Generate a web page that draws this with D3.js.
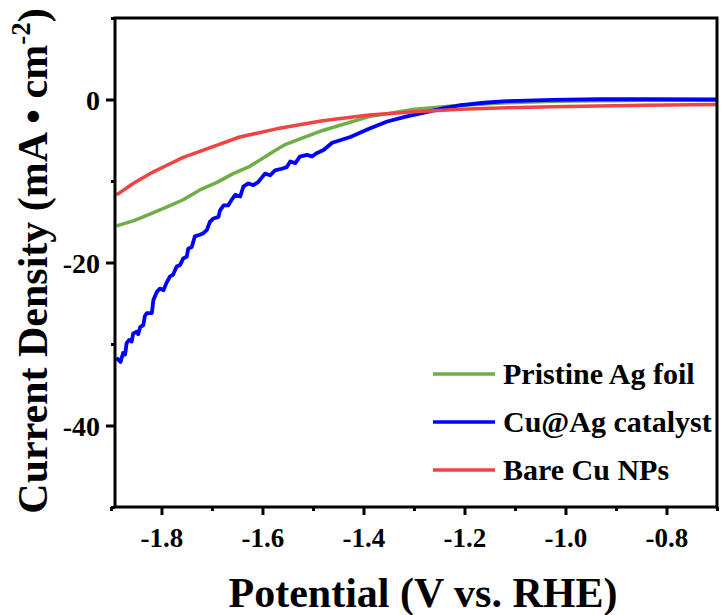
<!DOCTYPE html>
<html>
<head>
<meta charset="utf-8">
<script src="https://cdn.jsdelivr.net/npm/d3@7"></script>
<style>
  body { margin: 0; background: #fff; }
</style>
</head>
<body>
<script>
// data: [potential V, current density mA/cm2]
const pristineAg = [
  [-1.889, -15.5], [-1.856, -14.9], [-1.836, -14.4], [-1.790, -13.2], [-1.757, -12.3],
  [-1.724, -11.1], [-1.691, -10.2], [-1.658, -9.1], [-1.625, -8.2], [-1.579, -6.4],
  [-1.554, -5.5], [-1.481, -3.8], [-1.389, -2.1], [-1.298, -1.2], [-1.207, -0.7],
  [-1.116, -0.4], [-1.025, -0.2], [-0.842, -0.1], [-0.696, -0.1]
];

const cuAg = [
  [-1.889, -31.7], [-1.881, -32.2], [-1.876, -31.1], [-1.872, -31.3], [-1.869, -29.9],
  [-1.864, -29.5], [-1.859, -29.7], [-1.856, -28.7], [-1.849, -28.5], [-1.846, -28.8],
  [-1.842, -27.9], [-1.836, -27.7], [-1.833, -26.6], [-1.829, -26.2], [-1.819, -26.2],
  [-1.816, -24.6], [-1.809, -23.6], [-1.803, -23.2], [-1.796, -23.4], [-1.790, -22.5],
  [-1.783, -21.7], [-1.777, -21.5], [-1.770, -20.5], [-1.763, -20.3], [-1.757, -19.5],
  [-1.750, -19.3], [-1.747, -18.3], [-1.740, -18.1], [-1.734, -16.8], [-1.724, -16.6],
  [-1.717, -16.4], [-1.710, -16.0], [-1.704, -15.0], [-1.697, -14.6], [-1.687, -14.4],
  [-1.684, -13.6], [-1.677, -13.0], [-1.668, -13.0], [-1.661, -12.3], [-1.654, -11.7],
  [-1.644, -11.9], [-1.638, -10.7], [-1.628, -10.3], [-1.618, -10.5], [-1.608, -10.1],
  [-1.595, -9.1], [-1.585, -9.3], [-1.575, -8.7], [-1.562, -8.5], [-1.552, -8.3],
  [-1.545, -7.6], [-1.535, -7.8], [-1.526, -7.0], [-1.512, -6.8], [-1.502, -7.0],
  [-1.493, -6.6], [-1.479, -6.2], [-1.462, -5.3], [-1.426, -4.6], [-1.389, -3.6],
  [-1.353, -2.7], [-1.316, -2.1], [-1.280, -1.6], [-1.243, -1.1], [-1.207, -0.7],
  [-1.161, -0.4], [-1.116, -0.2], [-1.025, -0.05], [-0.934, 0.03], [-0.842, 0.03],
  [-0.696, 0.0]
];

const bareCu = [
  [-1.889, -11.7], [-1.856, -10.3], [-1.823, -9.1], [-1.790, -8.1], [-1.757, -7.1],
  [-1.717, -6.2], [-1.645, -4.6], [-1.572, -3.6], [-1.481, -2.6], [-1.389, -1.9],
  [-1.298, -1.5], [-1.207, -1.2], [-1.116, -1.0], [-1.025, -0.9], [-0.934, -0.8],
  [-0.842, -0.7], [-0.696, -0.6]
];

const seriesNames = ["Pristine Ag foil", "Cu@Ag catalyst", "Bare Cu NPs"];
const seriesColors = ["#70ad47", "#0000ff", "#f04343"];
const xTicks = [-1.8, -1.6, -1.4, -1.2, -1.0, -0.8];
const xMinor = [-1.9, -1.7, -1.5, -1.3, -1.1, -0.9, -0.7];
const yTicks = [0, -20, -40];
const yMinor = [10, -10, -30, -50];

const W = 723, H = 615;
const plotL = 115, plotR = 717, plotT = 18, plotB = 507;
const serif = "'Liberation Serif', 'Times New Roman', Times, serif";

const svg = d3.select("body").append("svg")
  .attr("width", W)
  .attr("height", H);

const x = d3.scaleLinear().domain([-1.892, -0.7]).range([plotL, plotR]);
const y = d3.scaleLinear().domain([-50, 10]).range([plotB, plotT]);

svg.append("clipPath").attr("id", "plot")
  .append("rect")
  .attr("x", plotL).attr("y", plotT)
  .attr("width", plotR - plotL).attr("height", plotB - plotT);

// curves
const line = d3.line().x(d => x(d[0])).y(d => y(d[1]));
const allSeries = [pristineAg, cuAg, bareCu];
svg.append("g").attr("clip-path", "url(#plot)")
  .selectAll("path")
  .data(allSeries)
  .join("path")
  .attr("d", line)
  .attr("fill", "none")
  .attr("stroke", (d, i) => seriesColors[i])
  .attr("stroke-width", (d, i) => i === 1 ? 3.8 : 3.5)
  .attr("stroke-linejoin", "round");

// x axis: minor ticks first, then labelled major ticks
const xMinorAxis = svg.append("g").attr("transform", "translate(0," + plotB + ")")
  .call(d3.axisBottom(x).tickValues(xMinor).tickSize(4).tickSizeOuter(0).tickFormat(""));
const xAxis = svg.append("g").attr("transform", "translate(0," + plotB + ")")
  .call(d3.axisBottom(x).tickValues(xTicks).tickSize(8).tickSizeOuter(0));
[xMinorAxis, xAxis].forEach(g => {
  g.select("path.domain").remove();
  g.selectAll("line").attr("stroke", "#000").attr("stroke-width", 3);
});
xAxis.selectAll("text")
  .attr("font-family", serif)
  .attr("font-weight", "bold")
  .attr("font-size", "27px")
  .attr("fill", "#000")
  .attr("y", 40)
  .attr("dy", 0)
  .text(d => d3.format(".1f")(d).replace("−", "-"));

// y axis
const yMinorAxis = svg.append("g").attr("transform", "translate(" + plotL + ",0)")
  .call(d3.axisLeft(y).tickValues(yMinor).tickSize(4).tickSizeOuter(0).tickFormat(""));
const yAxis = svg.append("g").attr("transform", "translate(" + plotL + ",0)")
  .call(d3.axisLeft(y).tickValues(yTicks).tickSize(9).tickSizeOuter(0));
[yMinorAxis, yAxis].forEach(g => {
  g.select("path.domain").remove();
  g.selectAll("line").attr("stroke", "#000").attr("stroke-width", 3);
});
yAxis.selectAll("text")
  .attr("font-family", serif)
  .attr("font-weight", "bold")
  .attr("font-size", "28px")
  .attr("fill", "#000")
  .attr("x", -15)
  .attr("dy", "0.34em")
  .text(d => String(d).replace("−", "-"));

// frame
svg.append("rect")
  .attr("x", plotL).attr("y", plotT)
  .attr("width", plotR - plotL).attr("height", plotB - plotT)
  .attr("fill", "none")
  .attr("stroke", "#000")
  .attr("stroke-width", 3);

// axis titles
svg.append("text")
  .attr("x", 423).attr("y", 607)
  .attr("text-anchor", "middle")
  .attr("font-family", serif)
  .attr("font-weight", "bold")
  .attr("font-size", "42px")
  .text("Potential (V vs. RHE)");

const yTitle = svg.append("text")
  .attr("transform", "translate(47,261) rotate(-90)")
  .attr("text-anchor", "middle")
  .attr("font-family", serif)
  .attr("font-weight", "bold")
  .attr("font-size", "42px");
yTitle.append("tspan").text("Current Density (mA \u2022 cm");
yTitle.append("tspan").attr("font-size", "27px").attr("dy", -17).text("-2");
yTitle.append("tspan").attr("dy", 17).text(")");

// legend
const legend = svg.append("g")
  .selectAll("g")
  .data(seriesNames)
  .join("g")
  .attr("transform", (d, i) => "translate(433," + (374 + i * 48) + ")");
legend.append("line")
  .attr("x1", 0).attr("x2", 62)
  .attr("stroke", (d, i) => seriesColors[i])
  .attr("stroke-width", 3.5);
legend.append("text")
  .attr("x", 70).attr("y", 10)
  .attr("font-family", serif)
  .attr("font-weight", "bold")
  .attr("font-size", "30px")
  .text(d => d);
</script>
</body>
</html>
